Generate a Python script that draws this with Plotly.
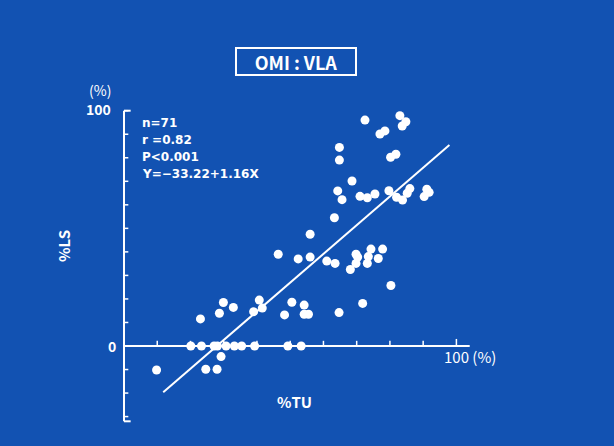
import plotly.graph_objects as go

# ---- data ----
tu = [72.5, 83.0, 84.8, 83.7, 77.0, 78.5, 64.8, 64.8, 80.2, 81.8,
      68.6, 64.3, 65.6, 71.0, 73.2, 75.5, 79.7, 82.0, 83.8, 85.2,
      86.0, 91.1, 91.8, 90.3, 63.3, 56.0, 46.4, 52.4, 56.0, 61.0,
      63.5, 69.8, 70.3, 74.3, 77.8, 73.5, 76.5, 69.8, 73.2, 68.1,
      80.3, 71.8, 64.7, 50.5, 54.2, 54.2, 55.5, 48.3, 40.7, 41.6,
      39.0, 29.9, 32.9, 28.7, 23.0, 20.1, 23.3, 27.1, 30.7, 33.2,
      35.4, 39.3, 49.3, 53.3, 29.2, 24.6, 28.0, 9.8, 28.1]
ls = [96.0, 97.9, 95.3, 93.5, 90.1, 91.4, 84.4, 79.0, 80.2, 81.5,
      70.1, 65.9, 62.2, 63.6, 63.0, 64.6, 66.0, 63.2, 62.0, 64.9,
      66.9, 66.6, 65.3, 63.5, 54.5, 47.5, 39.0, 37.0, 37.8, 36.1,
      35.1, 39.0, 37.8, 41.2, 41.2, 38.0, 37.2, 35.1, 35.1, 32.5,
      25.7, 18.1, 14.2, 18.6, 17.4, 13.5, 13.5, 13.2, 19.5, 16.1,
      14.6, 18.5, 16.4, 13.9, 11.5, 0, 0, 0, 0, 0,
      0, 0, 0, 0, -4.5, -9.9, -9.9, -10.2, 0]
fit_x = [11.8, 97.9]
fit_y = [-19.7, 85.4]
x_ticks = [10, 20, 30, 40, 50, 60, 70, 80, 90, 100]
y_ticks = [-30, -20, -10, 0, 10, 20, 30, 40, 50, 60, 70, 80, 90, 100]
stats_lines = ["n=71", "r =0.82", "P<0.001", "Y=−33.22+1.16X"]

# ---- layout geometry ----
W, H = 614, 446
L, R, T, B = 108, 124, 100, 16
X0PX, XSC = 124.0, 3.324     # px of x=0, px per unit
Y0PX, YSC = 346.0, 2.353     # px of y=0, px per unit
xr = [(L - X0PX) / XSC, (W - R - X0PX) / XSC]
yr = [(Y0PX - (H - B)) / YSC, (Y0PX - T) / YSC]
PW, PH = W - L - R, H - T - B

def px(x):
    return (x - L) / PW

def py(y):
    return 1 - (y - T) / PH

BG = "#1252b2"
WHITE = "white"
FONT = "Noto Sans CJK JP"

fig = go.Figure()

fig.add_trace(go.Scatter(x=fit_x, y=fit_y, mode="lines",
                         line=dict(color=WHITE, width=2), hoverinfo="skip"))
fig.add_trace(go.Scatter(x=tu, y=ls, mode="markers",
                         marker=dict(color=WHITE, size=9, line=dict(width=0))))

shapes = []
ax_y_bottom = -32
# y axis
shapes.append(dict(type="line", x0=0, x1=0, y0=ax_y_bottom, y1=100,
                   line=dict(color=WHITE, width=2)))
shapes.append(dict(type="line", x0=0, x1=2.0, y0=100, y1=100,
                   line=dict(color=WHITE, width=2)))
shapes.append(dict(type="line", x0=0, x1=2.0, y0=ax_y_bottom, y1=ax_y_bottom,
                   line=dict(color=WHITE, width=2)))
for t in y_ticks:
    shapes.append(dict(type="line", x0=0, x1=1.3, y0=t, y1=t,
                       line=dict(color=WHITE, width=1.5)))
# x axis
shapes.append(dict(type="line", x0=0, x1=104, y0=0, y1=0,
                   line=dict(color=WHITE, width=2)))
for t in x_ticks:
    shapes.append(dict(type="line", x0=t, x1=t, y0=0, y1=2.2 if t < 100 else 3.0,
                       line=dict(color=WHITE, width=1.5)))
fig.update_layout(shapes=shapes)


def note(xp, yp, text, size, xanchor="center", family=FONT, **kw):
    return dict(x=px(xp), y=py(yp), xref="paper", yref="paper", text=text,
                showarrow=False, xanchor=xanchor, yanchor="middle",
                font=dict(family=family, size=size, color=WHITE), **kw)


ann = [
    note(296, 62, "<b>OMI : VLA</b>", 18, bordercolor=WHITE, borderwidth=2,
         borderpad=1, width=116, height=23),
    note(100, 90, "(%)", 14),
    note(113, 109, "<b>100</b>", 14, xanchor="right"),
    note(118, 346, "<b>0</b>", 14, xanchor="right"),
    note(442, 356, "100 (%)", 15, xanchor="left"),
    note(294, 401, "<b>%TU</b>", 15),
    note(63, 246, "<b>%LS</b>", 15, textangle=-90),
]
for i, s in enumerate(stats_lines):
    ann.append(note(141, 123 + 17 * i, "<b>" + s + "</b>", 12, xanchor="left",
                    family="DejaVu Sans", borderpad=0))
fig.update_layout(annotations=ann)

fig.update_layout(
    width=W, height=H, autosize=False,
    margin=dict(l=L, r=R, t=T, b=B),
    paper_bgcolor=BG, plot_bgcolor=BG,
    showlegend=False,
    xaxis=dict(range=xr, visible=False, fixedrange=True),
    yaxis=dict(range=yr, visible=False, fixedrange=True),
)

fig.write_html("out.html", config={"displayModeBar": False},
               post_script="document.body.style.margin='0';document.body.style.overflow='hidden';")
